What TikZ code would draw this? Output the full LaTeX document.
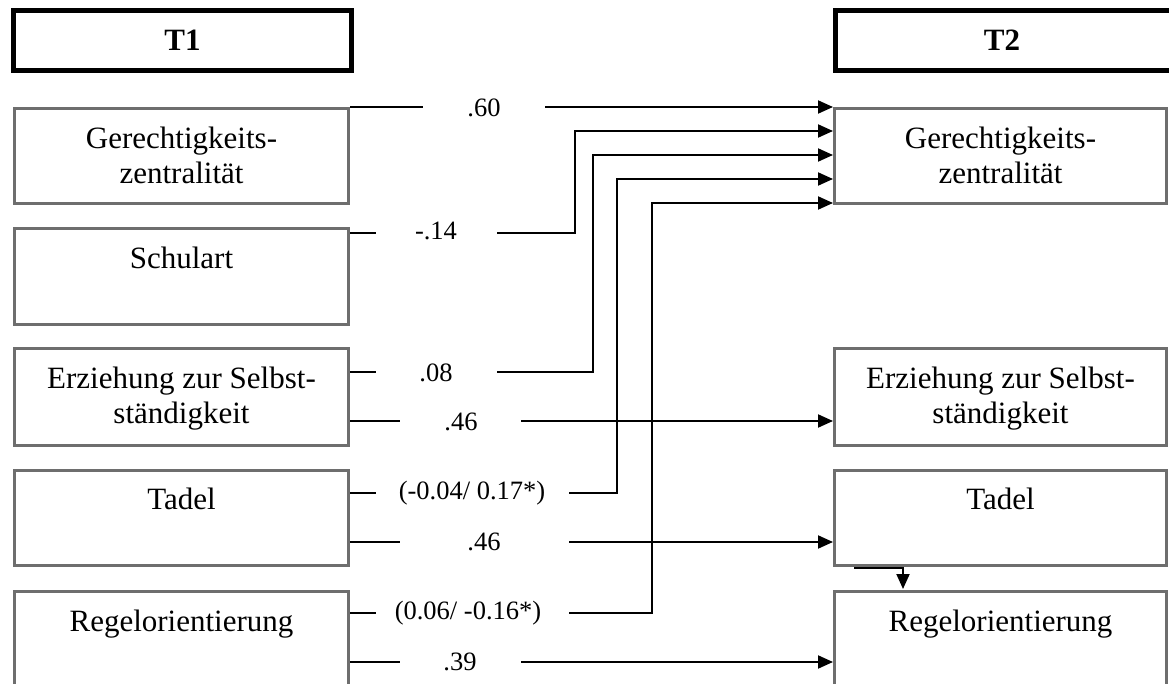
\documentclass[tikz,border=0pt]{standalone}
\usepackage{fontspec}
\setmainfont{Liberation Serif}
\usetikzlibrary{arrows.meta}
\definecolor{boxgray}{HTML}{6E6E6E}
\tikzset{
  lbox/.style={draw=boxgray, line width=3pt, minimum width=334pt, anchor=north west, inner sep=0pt, outer sep=0pt},
  rbox/.style={draw=boxgray, line width=3pt, minimum width=332pt, anchor=north west, inner sep=0pt, outer sep=0pt},
  tbox/.style={draw=black, line width=5.5pt, anchor=north west, inner sep=0pt, outer sep=0pt, minimum height=60pt},
  btxt/.style={anchor=north, align=center, inner sep=0pt, font=\fontsize{31}{35}\selectfont},
  ttxt/.style={font=\fontsize{31}{35}\selectfont\bfseries, inner sep=0pt},
  lab/.style={inner sep=0pt, font=\fontsize{26.5}{29}\selectfont},
  conn/.style={line width=2pt, black},
  arr/.style={line width=2pt, black, -{Triangle[length=15pt,width=13pt]}}
}
\begin{document}
\begin{tikzpicture}[x=1pt,y=-1pt]
\useasboundingbox (0,0) rectangle (1169,684);
\begin{scope}
\clip (0,0) rectangle (1169,684);
% header boxes
\node[tbox, minimum width=338pt] (T1) at (13.5,10.5) {};
\node[ttxt] at (T1.center) {T1};
\node[tbox, minimum width=350pt] (T2) at (835.5,10.5) {};
\node[ttxt] at (1002,40) {T2};
% left boxes
\node[lbox, minimum height=95pt] (Lger) at (14.5,108.5) {};
\node[btxt] at (181.5,126.5) {Gerechtigkeits-\\zentralität};
\node[lbox, minimum height=96pt] (Lsch) at (14.5,228.5) {};
\node[btxt] at (181.5,246.5) {Schulart};
\node[lbox, minimum height=97pt] (Lerz) at (14.5,348.5) {};
\node[btxt] at (181.5,366.5) {Erziehung zur Selbst-\\ständigkeit};
\node[lbox, minimum height=95pt] (Ltad) at (14.5,470.5) {};
\node[btxt] at (181.5,488) {Tadel};
\node[lbox, minimum height=120pt] (Lreg) at (14.5,591.5) {};
\node[btxt] at (181.5,609.5) {Regelorientierung};
% right boxes
\node[rbox, minimum height=95pt] (Rger) at (834.5,108.5) {};
\node[btxt] at (1000.5,126.5) {Gerechtigkeits-\\zentralität};
\node[rbox, minimum height=97pt] (Rerz) at (834.5,348.5) {};
\node[btxt] at (1000.5,366.5) {Erziehung zur Selbst-\\ständigkeit};
\node[rbox, minimum height=95pt] (Rtad) at (834.5,470.5) {};
\node[btxt] at (1000.5,488) {Tadel};
\node[rbox, minimum height=120pt] (Rreg) at (834.5,591.5) {};
\node[btxt] at (1000.5,609.5) {Regelorientierung};
\end{scope}
% labels
\node[lab] (l60) at (484,108) {.60};
\node[lab] (l14) at (436,231) {-.14};
\node[lab] (l08) at (436,373) {.08};
\node[lab] (l46a) at (461,422) {.46};
\node[lab] (lt) at (472,493) {(-0.04/ 0.17*)};
\node[lab] (l46b) at (484,542) {.46};
\node[lab] (lr) at (468,613) {(0.06/ -0.16*)};
\node[lab] (l39) at (460,662) {.39};
% coordinates for gaps
\coordinate (a1) at (423,107); \coordinate (b1) at (545,107);
\coordinate (a2) at (376,233); \coordinate (b2) at (497,233);
\coordinate (a3) at (376,372); \coordinate (b3) at (497,372);
\coordinate (a4) at (400,421); \coordinate (b4) at (521,421);
\coordinate (a5) at (376,493); \coordinate (b5) at (569,493);
\coordinate (a6) at (400,542); \coordinate (b6) at (569,542);
\coordinate (a7) at (376,613); \coordinate (b7) at (569,613);
\coordinate (a8) at (400,662); \coordinate (b8) at (521,662);
% connectors
\draw[conn] (350,107) -- (a1);
\draw[arr] (b1) -- (833,107);
\draw[conn] (350,233) -- (a2);
\draw[arr] (b2) -- (575,233) -- (575,131) -- (833,131);
\draw[conn] (350,372) -- (a3);
\draw[arr] (b3) -- (593,372) -- (593,155) -- (833,155);
\draw[conn] (350,421) -- (a4);
\draw[arr] (b4) -- (833,421);
\draw[conn] (350,493) -- (a5);
\draw[arr] (b5) -- (617,493) -- (617,179) -- (833,179);
\draw[conn] (350,542) -- (a6);
\draw[arr] (b6) -- (833,542);
\draw[conn] (350,613) -- (a7);
\draw[arr] (b7) -- (652,613) -- (652,203) -- (833,203);
\draw[conn] (350,662) -- (a8);
\draw[arr] (b8) -- (833,662);
\coordinate (c1) at (854,568);
\draw[arr] (c1) -- (903,568) -- (903,589);
\end{tikzpicture}
\end{document}
